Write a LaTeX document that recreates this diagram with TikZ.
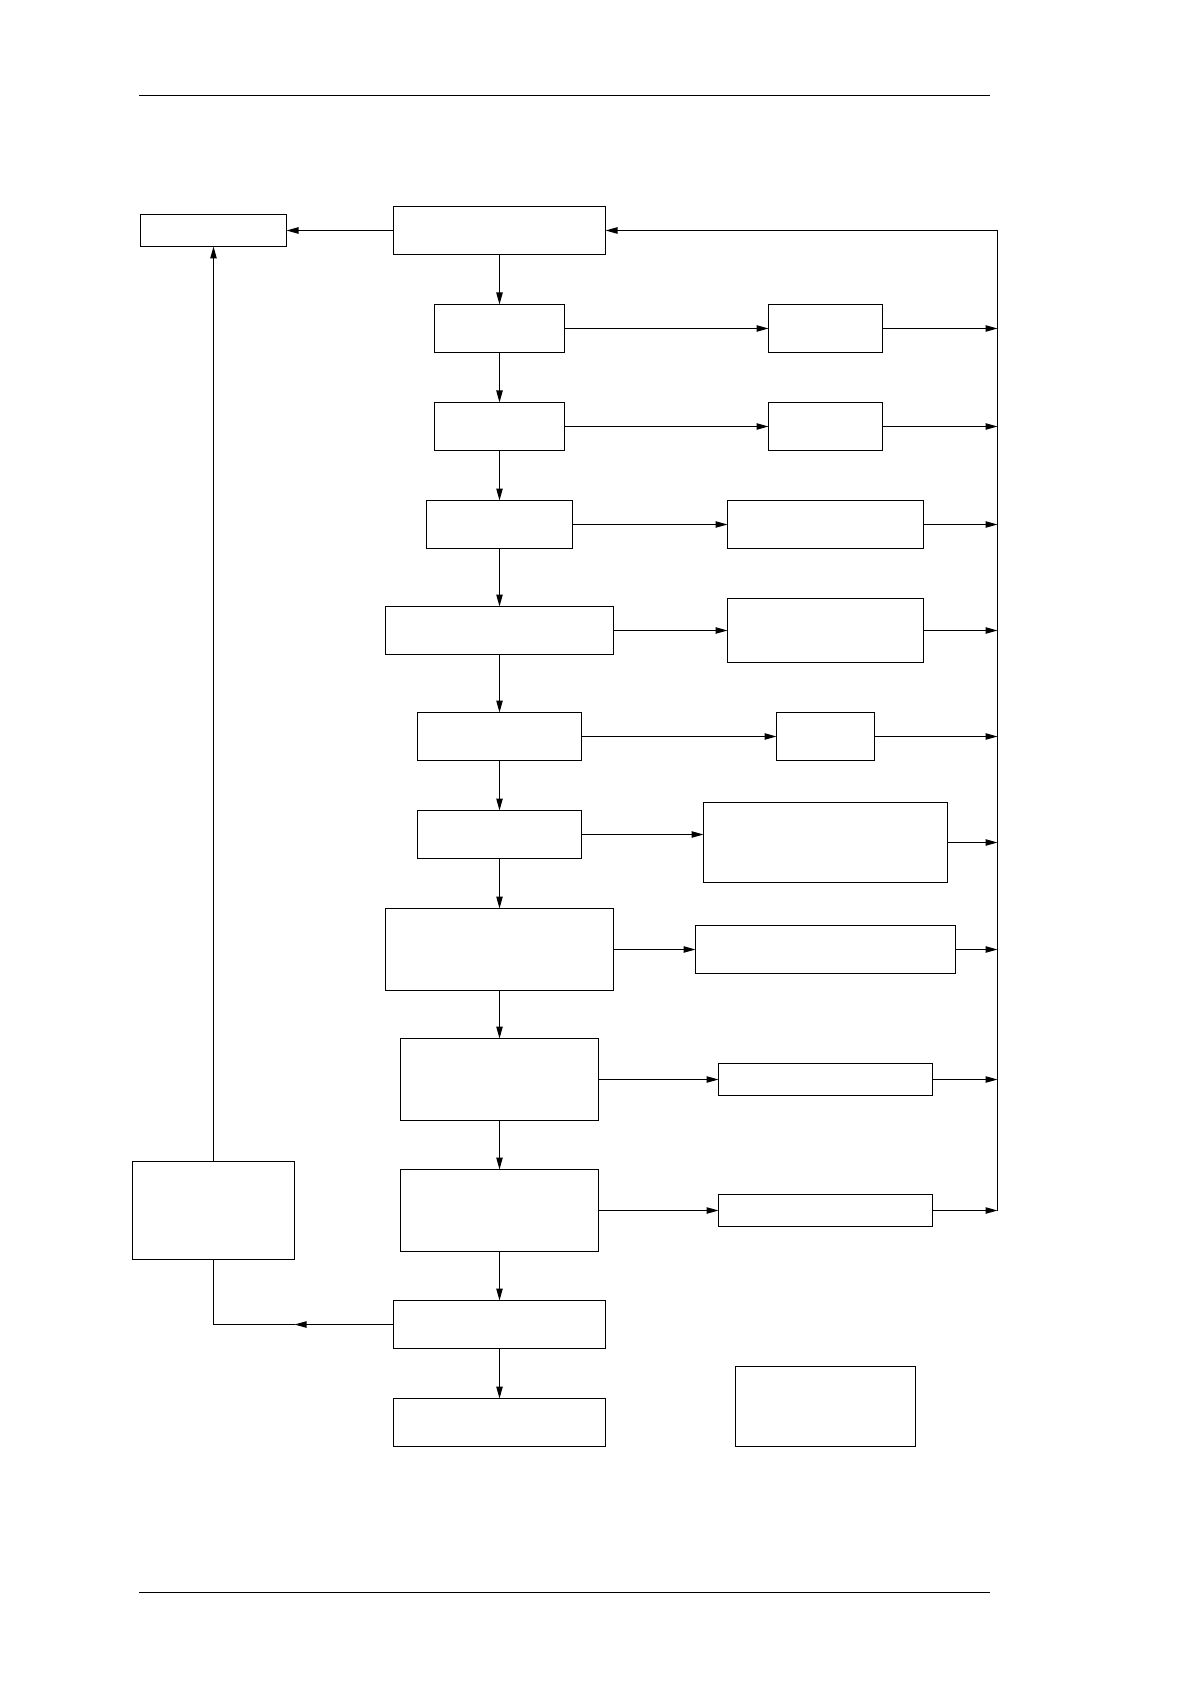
\documentclass[tikz,border=0pt]{standalone}
\usetikzlibrary{arrows.meta}
\begin{document}
\begin{tikzpicture}[x=0.5pt,y=-0.5pt,
  every path/.style={line width=0.55pt},
  box/.style={draw,line width=0.55pt,inner sep=0pt,outer sep=0pt},
  arr/.style={-{Triangle[length=6pt,width=3.2pt]}},
  rule/.style={line width=0.6pt}]
\useasboundingbox (0,0) rectangle (1188,1684);
% header / footer rules
\coordinate (h1) at (139,95.5); \coordinate (h2) at (990,95.5);
\coordinate (f1) at (139,1592.5); \coordinate (f2) at (990,1592.5);
\draw[rule] (h1) -- (h2);
\draw[rule] (f1) -- (f2);
% boxes
\node[box,minimum width=73pt,minimum height=16pt] (A) at (213.5,230.5) {};
\node[box,minimum width=106pt,minimum height=24pt] (T) at (499.5,230.5) {};
\node[box,minimum width=65pt,minimum height=24pt] (B1) at (499.5,328.5) {};
\node[box,minimum width=57pt,minimum height=24pt] (R1) at (825.5,328.5) {};
\node[box,minimum width=65pt,minimum height=24pt] (B2) at (499.5,426.5) {};
\node[box,minimum width=57pt,minimum height=24pt] (R2) at (825.5,426.5) {};
\node[box,minimum width=73pt,minimum height=24pt] (B3) at (499.5,524.5) {};
\node[box,minimum width=98pt,minimum height=24pt] (R3) at (825.5,524.5) {};
\node[box,minimum width=114pt,minimum height=24pt] (B4) at (499.5,630.5) {};
\node[box,minimum width=98pt,minimum height=32pt] (R4) at (825.5,630.5) {};
\node[box,minimum width=82pt,minimum height=24pt] (B5) at (499.5,736.5) {};
\node[box,minimum width=49pt,minimum height=24pt] (R5) at (825.5,736.5) {};
\node[box,minimum width=82pt,minimum height=24pt] (B6) at (499.5,834.5) {};
\node[box,minimum width=122pt,minimum height=40pt] (R6) at (825.5,842.5) {};
\node[box,minimum width=114pt,minimum height=41pt] (B7) at (499.5,949.5) {};
\node[box,minimum width=130pt,minimum height=24pt] (R7) at (825.5,949.5) {};
\node[box,minimum width=99pt,minimum height=41pt] (B8) at (499.5,1079.5) {};
\node[box,minimum width=107pt,minimum height=16pt] (R8) at (825.5,1079.5) {};
\node[box,minimum width=99pt,minimum height=41pt] (B9) at (499.5,1210.5) {};
\node[box,minimum width=107pt,minimum height=16pt] (R9) at (825.5,1210.5) {};
\node[box,minimum width=106pt,minimum height=24pt] (B10) at (499.5,1324.5) {};
\node[box,minimum width=81pt,minimum height=49pt] (L) at (213.5,1210.5) {};
\node[box,minimum width=106pt,minimum height=24pt] (B11) at (499.5,1422.5) {};
\node[box,minimum width=90pt,minimum height=40pt] (Lone) at (825.5,1406.5) {};
% right collector line
\coordinate (rtop) at (997.5,230.5);
\coordinate (rbot) at (997.5,1210.5);
\draw[arr] (rbot) -- (rtop) -- (T.east);
% main vertical chain
\draw[arr] (T.south) -- (B1.north);
\draw[arr] (B1.south) -- (B2.north);
\draw[arr] (B2.south) -- (B3.north);
\draw[arr] (B3.south) -- (B4.north);
\draw[arr] (B4.south) -- (B5.north);
\draw[arr] (B5.south) -- (B6.north);
\draw[arr] (B6.south) -- (B7.north);
\draw[arr] (B7.south) -- (B8.north);
\draw[arr] (B8.south) -- (B9.north);
\draw[arr] (B9.south) -- (B10.north);
\draw[arr] (B10.south) -- (B11.north);
% side branches
\foreach \i in {1,2,3,4,5,6,7,8,9}{
  \draw[arr] (B\i.east) -- (B\i.east -| R\i.west);
  \draw[arr] (R\i.east) -- (R\i.east -| rtop);
}
% left side
\draw[arr] (T.west) -- (A.east);
\draw[arr] (L.north) -- (A.south);
\coordinate (lm) at (B10.west -| L.east);
\coordinate (lc) at (B10.west -| L.south);
\draw[arr] (B10.west) -- (lm);
\draw (lm) -- (lc) -- (L.south);
\end{tikzpicture}
\end{document}
